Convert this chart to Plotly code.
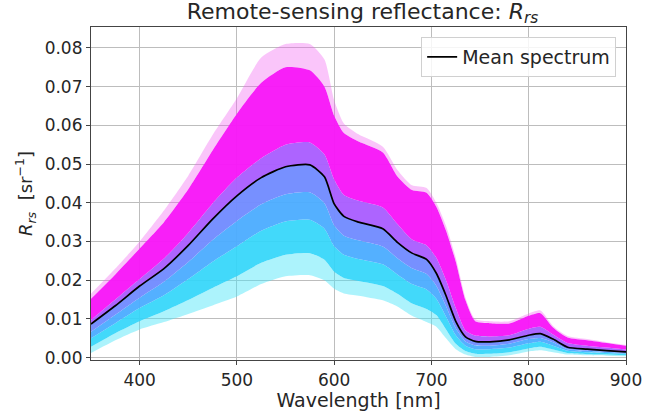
import plotly.graph_objects as go

# Wavelength grid (nm)
wavelength = [350, 375, 400, 425, 450, 475, 500, 525, 550, 575, 590, 600, 610, 625, 650, 665,
              680, 695, 705, 715, 725, 735, 745, 760, 780, 800, 812, 825, 840, 860, 880, 900]

# Lowest sparse cyan spectra (lower edge of the ensemble)
lower_edge = [0.0012, 0.0045, 0.0073, 0.0092, 0.0113, 0.0135, 0.0158, 0.0190, 0.0210, 0.0213, 0.0200,
              0.0178, 0.0166, 0.0160, 0.0148, 0.0132, 0.0108, 0.0092, 0.0080, 0.0050, 0.0022, 0.0008,
              0.0002, 0.0002, 0.0006, 0.0016, 0.0019, 0.0014, 0.0008, 0.0006, 0.0005, 0.0004]
# Lower edge of the dense cyan spectra
cyan_dense = [0.0028, 0.0063, 0.0094, 0.0120, 0.0149, 0.0180, 0.0210, 0.0245, 0.0266, 0.0270, 0.0253,
              0.0222, 0.0206, 0.0198, 0.0185, 0.0165, 0.0140, 0.0126, 0.0110, 0.0073, 0.0036, 0.0017,
              0.0010, 0.0010, 0.0014, 0.0024, 0.0028, 0.0021, 0.0012, 0.0009, 0.0008, 0.0006]
# Cyan -> light blue transition
cyan_blue = [0.0050, 0.0089, 0.0128, 0.0161, 0.0203, 0.0248, 0.0288, 0.0328, 0.0352, 0.0356, 0.0333,
             0.0288, 0.0266, 0.0255, 0.0241, 0.0215, 0.0190, 0.0176, 0.0152, 0.0106, 0.0058, 0.0031,
             0.0022, 0.0022, 0.0026, 0.0037, 0.0041, 0.0031, 0.0018, 0.0014, 0.0012, 0.0010]
# Light blue -> blue-violet transition
blue_violet = [0.0067, 0.0111, 0.0155, 0.0196, 0.0247, 0.0304, 0.0353, 0.0396, 0.0422, 0.0427, 0.0399,
               0.0342, 0.0315, 0.0303, 0.0287, 0.0257, 0.0231, 0.0216, 0.0186, 0.0133, 0.0076, 0.0042,
               0.0032, 0.0031, 0.0036, 0.0048, 0.0051, 0.0040, 0.0022, 0.0018, 0.0015, 0.0012]
# Mean spectrum
mean_spectrum = [0.0087, 0.0134, 0.0185, 0.0230, 0.0290, 0.0358, 0.0418, 0.0465, 0.0493, 0.0498, 0.0467,
                 0.0397, 0.0365, 0.0350, 0.0333, 0.0298, 0.0270, 0.0254, 0.0218, 0.0160, 0.0094, 0.0054,
                 0.0042, 0.0041, 0.0046, 0.0058, 0.0062, 0.0048, 0.0027, 0.0022, 0.0018, 0.0015]
# Violet -> magenta transition
violet_magenta = [0.0097, 0.0150, 0.0203, 0.0256, 0.0322, 0.0398, 0.0465, 0.0515, 0.0550, 0.0556, 0.0525,
                  0.0460, 0.0420, 0.0405, 0.0388, 0.0345, 0.0305, 0.0290, 0.0258, 0.0200, 0.0128, 0.0070,
                  0.0057, 0.0055, 0.0058, 0.0075, 0.0080, 0.0060, 0.0038, 0.0031, 0.0026, 0.0021]
# Upper edge of the dense magenta spectra
magenta_dense = [0.0152, 0.0215, 0.0282, 0.0350, 0.0435, 0.0535, 0.0630, 0.0710, 0.0750, 0.0742, 0.0700,
                 0.0625, 0.0580, 0.0558, 0.0530, 0.0468, 0.0433, 0.0426, 0.0390, 0.0328, 0.0248, 0.0148,
                 0.0094, 0.0089, 0.0088, 0.0108, 0.0115, 0.0078, 0.0052, 0.0045, 0.0038, 0.0031]
# Highest sparse magenta spectra (upper edge of the ensemble)
upper_edge = [0.0165, 0.0230, 0.0300, 0.0380, 0.0470, 0.0575, 0.0670, 0.0775, 0.0810, 0.0810, 0.0770,
              0.0665, 0.0605, 0.0577, 0.0545, 0.0485, 0.0445, 0.0438, 0.0400, 0.0340, 0.0258, 0.0155,
              0.0099, 0.0094, 0.0094, 0.0114, 0.0122, 0.0082, 0.0056, 0.0048, 0.0040, 0.0033]

x_ticks = [400, 500, 600, 700, 800, 900]
y_ticks = [0.00, 0.01, 0.02, 0.03, 0.04, 0.05, 0.06, 0.07, 0.08]
y_tick_text = ["0.00", "0.01", "0.02", "0.03", "0.04", "0.05", "0.06", "0.07", "0.08"]

bands = [
    (lower_edge, None),
    (cyan_dense, "rgba(70,228,248,0.45)"),
    (cyan_blue, "rgba(50,214,250,0.92)"),
    (blue_violet, "rgba(75,172,255,0.95)"),
    (mean_spectrum, "rgba(115,140,255,0.97)"),
    (violet_magenta, "rgba(170,95,255,0.97)"),
    (magenta_dense, "rgba(248,24,248,0.97)"),
    (upper_edge, "rgba(240,90,240,0.35)"),
]

fig = go.Figure()
for vals, col in bands:
    fig.add_trace(go.Scatter(
        x=wavelength, y=vals, mode="lines",
        line=dict(width=0, shape="spline", smoothing=0.6),
        fill=None if col is None else "tonexty", fillcolor=col,
        showlegend=False, hoverinfo="skip"))

fig.add_trace(go.Scatter(
    x=wavelength, y=mean_spectrum, mode="lines", name="Mean spectrum",
    line=dict(color="black", width=1.7, shape="spline", smoothing=0.6)))

font_family = "DejaVu Sans"
text_color = "#262626"
axis_common = dict(
    showgrid=True, gridcolor="#bdbdbd", gridwidth=1,
    showline=True, linecolor="#444444", linewidth=1.2, mirror=True,
    ticks="outside", ticklen=4, tickcolor="#444444", tickwidth=1,
    zeroline=False, tickfont=dict(family=font_family, size=17, color=text_color),
)

fig.update_layout(
    width=654, height=418,
    margin=dict(l=91, r=20, t=27, b=55),
    paper_bgcolor="white", plot_bgcolor="white",
    title=dict(text="Remote-sensing reflectance: <i>R</i><sub><i>rs</i></sub>",
               x=(362.5 / 654), xanchor="center", y=1 - 11 / 418, yanchor="middle",
               yref="container", font=dict(family=font_family, size=22, color=text_color)),
    xaxis=dict(range=[350, 900], tickvals=x_ticks,
               title=dict(text="Wavelength [nm]", standoff=3,
                          font=dict(family=font_family, size=19, color=text_color)),
               **axis_common),
    yaxis=dict(range=[-0.0006, 0.0854], tickvals=y_ticks, ticktext=y_tick_text,
               title=dict(text="<i>R</i><sub><i>rs</i></sub>  [sr<sup>−1</sup>]", standoff=7,
                          font=dict(family=font_family, size=18, color=text_color)),
               **axis_common),
    legend=dict(x=0.9816, xanchor="right", y=0.97, yanchor="top",
                bgcolor="rgba(255,255,255,0.85)", bordercolor="#d0d0d0", borderwidth=1,
                font=dict(family=font_family, size=19, color=text_color)),
    showlegend=True,
)

fig.write_html("out.html")
